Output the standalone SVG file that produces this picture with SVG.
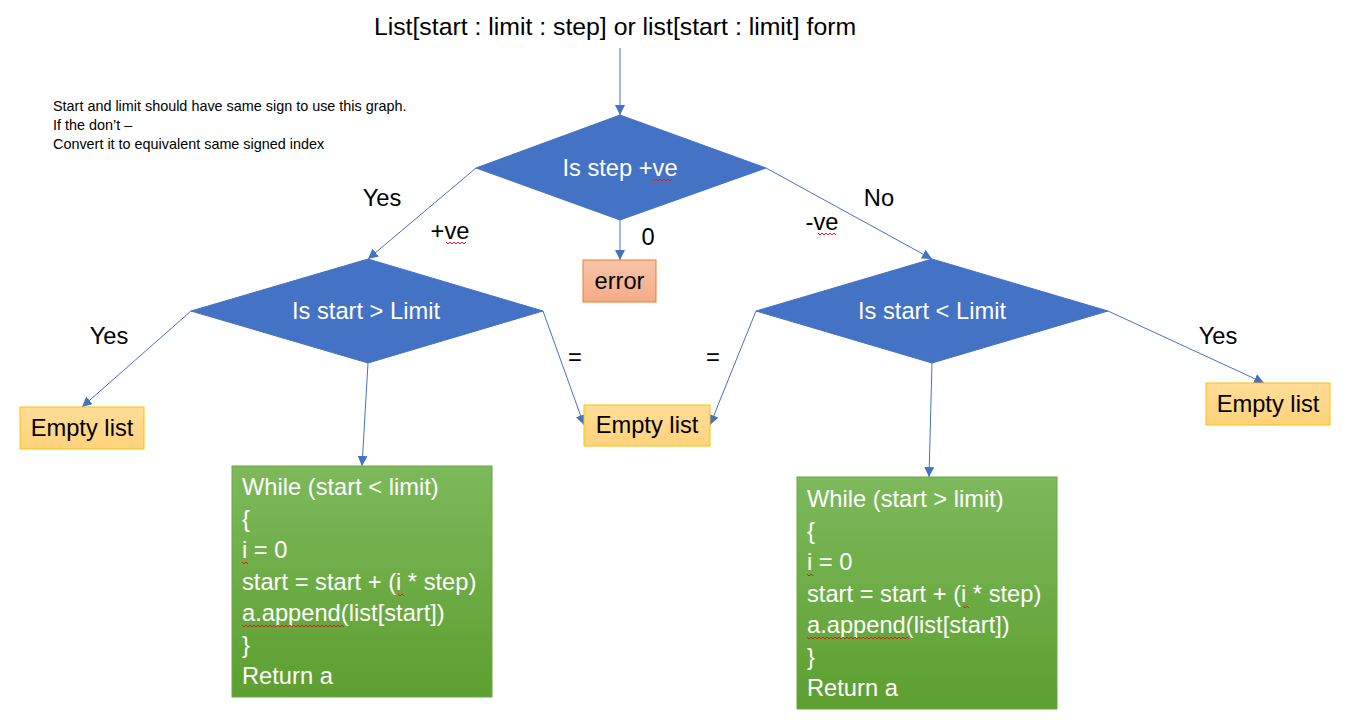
<svg xmlns="http://www.w3.org/2000/svg" width="1348" height="720" viewBox="0 0 1348 720">
<style>
text{font-family:"Liberation Sans",Arial,sans-serif;fill:#000}
.t{font-size:23.7px}
.c{text-anchor:middle}
.w{fill:#fff}
.note{font-size:14.4px}
.dia{fill:#4472C4;stroke:#4472C4;stroke-width:1}
.emp{fill:url(#gEmp);stroke:#FFC000;stroke-width:1}
.err{fill:url(#gErr);stroke:#ED7D31;stroke-width:1}
.grn{fill:url(#gGrn);stroke:#6AA842;stroke-width:1}
.con{stroke:#4472C4;stroke-width:1;fill:none;marker-end:url(#ah)}
.sq{stroke:#E02020;stroke-width:1;fill:none}
</style>
<defs>
<marker id="ah" viewBox="0 0 10 10" refX="10" refY="5" markerWidth="10" markerHeight="10" markerUnits="userSpaceOnUse" orient="auto">
<path d="M0,0 L10,5 L0,10 z" fill="#4472C4"/>
</marker>
<linearGradient id="gEmp" x1="0" y1="0" x2="0" y2="1"><stop offset="0" stop-color="#FFDC97"/><stop offset="1" stop-color="#FFD37C"/></linearGradient>
<linearGradient id="gErr" x1="0" y1="0" x2="0" y2="1"><stop offset="0" stop-color="#F8C4A9"/><stop offset="1" stop-color="#F4AB86"/></linearGradient>
<linearGradient id="gGrn" x1="0" y1="0" x2="0" y2="1"><stop offset="0" stop-color="#7DB95B"/><stop offset="1" stop-color="#5D9F30"/></linearGradient>
</defs>

<g id="title"><text class="c" x="615" y="35" font-size="24.8px">List[start : limit : step] or list[start : limit] form</text></g>

<g id="note">
<text class="note" x="53" y="111">Start and limit should have same sign to use this graph.</text>
<text class="note" x="53" y="130">If the don’t –</text>
<text class="note" x="53" y="149">Convert it to equivalent same signed index</text>
</g>

<g id="connectors">
<line class="con" x1="620" y1="48" x2="620" y2="115"/>
<line class="con" x1="620" y1="220" x2="620" y2="260"/>
<line class="con" x1="476" y1="168" x2="368" y2="259"/>
<line class="con" x1="766" y1="168" x2="932" y2="259"/>
<line class="con" x1="191" y1="311" x2="82" y2="407"/>
<line class="con" x1="543" y1="311" x2="584" y2="425"/>
<line class="con" x1="756" y1="311" x2="710" y2="425"/>
<line class="con" x1="1108" y1="311" x2="1264" y2="383"/>
<line class="con" x1="368" y1="363" x2="362" y2="466"/>
<line class="con" x1="932" y1="363" x2="929" y2="477"/>
</g>

<g id="labels">
<text class="t c" x="382" y="206">Yes</text>
<text class="t c" x="450" y="239">+ve</text>
<path class="sq" d="M446,242 l2,2 l2,-2 l2,2 l2,-2 l2,2 l2,-2 l2,2 l2,-2 l2,2 l2,-2"/>
<text class="t c" x="822" y="230">-ve</text>
<text class="t c" x="879" y="206">No</text>
<path class="sq" d="M818,233 l2,2 l2,-2 l2,2 l2,-2 l2,2 l2,-2 l2,2 l2,-2 l2,2"/>
<text class="t c" x="648" y="245">0</text>
<text class="t c" x="109" y="344">Yes</text>
<text class="t c" x="575" y="365">=</text>
<text class="t c" x="713" y="365">=</text>
<text class="t c" x="1218" y="344">Yes</text>
</g>

<g id="d1">
<polygon class="dia" points="620,115 766,168 620,220 476,168"/>
<text class="t c w" x="620" y="176">Is step +ve</text>
<path class="sq" d="M652,179 l2,2 l2,-2 l2,2 l2,-2 l2,2 l2,-2 l2,2 l2,-2 l2,2 l2,-2"/>
</g>

<g id="error">
<rect class="err" x="583" y="260" width="73" height="42"/>
<text class="t c" x="619.5" y="289">error</text>
</g>

<g id="d2">
<polygon class="dia" points="368,259 543,311 368,363 191,311"/>
<text class="t c w" x="366" y="319">Is start &gt; Limit</text>
</g>

<g id="d3">
<polygon class="dia" points="932,259 1108,311 932,363 756,311"/>
<text class="t c w" x="932" y="319">Is start &lt; Limit</text>
</g>

<g id="empty1">
<rect class="emp" x="20" y="407" width="124" height="42"/>
<text class="t c" x="82" y="436">Empty list</text>
</g>

<g id="empty2">
<rect class="emp" x="584" y="405" width="126" height="41"/>
<text class="t c" x="647" y="433">Empty list</text>
</g>

<g id="empty3">
<rect class="emp" x="1206" y="383" width="124" height="42"/>
<text class="t c" x="1268" y="412">Empty list</text>
</g>

<g id="loop1">
<rect class="grn" x="232" y="466" width="260" height="231"/>
<text class="t w" x="242" y="495">While (start &lt; limit)</text>
<text class="t w" x="242" y="527">{</text>
<text class="t w" x="242" y="558">i = 0</text>
<text class="t w" x="242" y="590">start = start + (i * step)</text>
<text class="t w" x="242" y="621">a.append(list[start])</text>
<text class="t w" x="242" y="653">}</text>
<text class="t w" x="242" y="684">Return a</text>
<path class="sq" d="M242,562 l2,2 l2,-2 l2,2"/>
<path class="sq" d="M398,594 l2,2 l2,-2 l2,2"/>
<path class="sq" d="M242,625 l2,2 l2,-2 l2,2 l2,-2 l2,2 l2,-2 l2,2 l2,-2 l2,2 l2,-2 l2,2 l2,-2 l2,2 l2,-2 l2,2 l2,-2 l2,2 l2,-2 l2,2 l2,-2 l2,2 l2,-2 l2,2 l2,-2 l2,2 l2,-2 l2,2 l2,-2 l2,2 l2,-2 l2,2 l2,-2 l2,2 l2,-2 l2,2 l2,-2 l2,2 l2,-2 l2,2 l2,-2 l2,2 l2,-2 l2,2 l2,-2 l2,2 l2,-2 l2,2 l2,-2 l2,2 l2,-2 l2,2"/>
</g>

<g id="loop2">
<rect class="grn" x="797" y="477" width="260" height="232"/>
<text class="t w" x="807" y="507">While (start &gt; limit)</text>
<text class="t w" x="807" y="539">{</text>
<text class="t w" x="807" y="570">i = 0</text>
<text class="t w" x="807" y="602">start = start + (i * step)</text>
<text class="t w" x="807" y="633">a.append(list[start])</text>
<text class="t w" x="807" y="665">}</text>
<text class="t w" x="807" y="696">Return a</text>
<path class="sq" d="M807,574 l2,2 l2,-2 l2,2"/>
<path class="sq" d="M963,606 l2,2 l2,-2 l2,2"/>
<path class="sq" d="M807,637 l2,2 l2,-2 l2,2 l2,-2 l2,2 l2,-2 l2,2 l2,-2 l2,2 l2,-2 l2,2 l2,-2 l2,2 l2,-2 l2,2 l2,-2 l2,2 l2,-2 l2,2 l2,-2 l2,2 l2,-2 l2,2 l2,-2 l2,2 l2,-2 l2,2 l2,-2 l2,2 l2,-2 l2,2 l2,-2 l2,2 l2,-2 l2,2 l2,-2 l2,2 l2,-2 l2,2 l2,-2 l2,2 l2,-2 l2,2 l2,-2 l2,2 l2,-2 l2,2 l2,-2 l2,2 l2,-2 l2,2"/>
</g>
</svg>
